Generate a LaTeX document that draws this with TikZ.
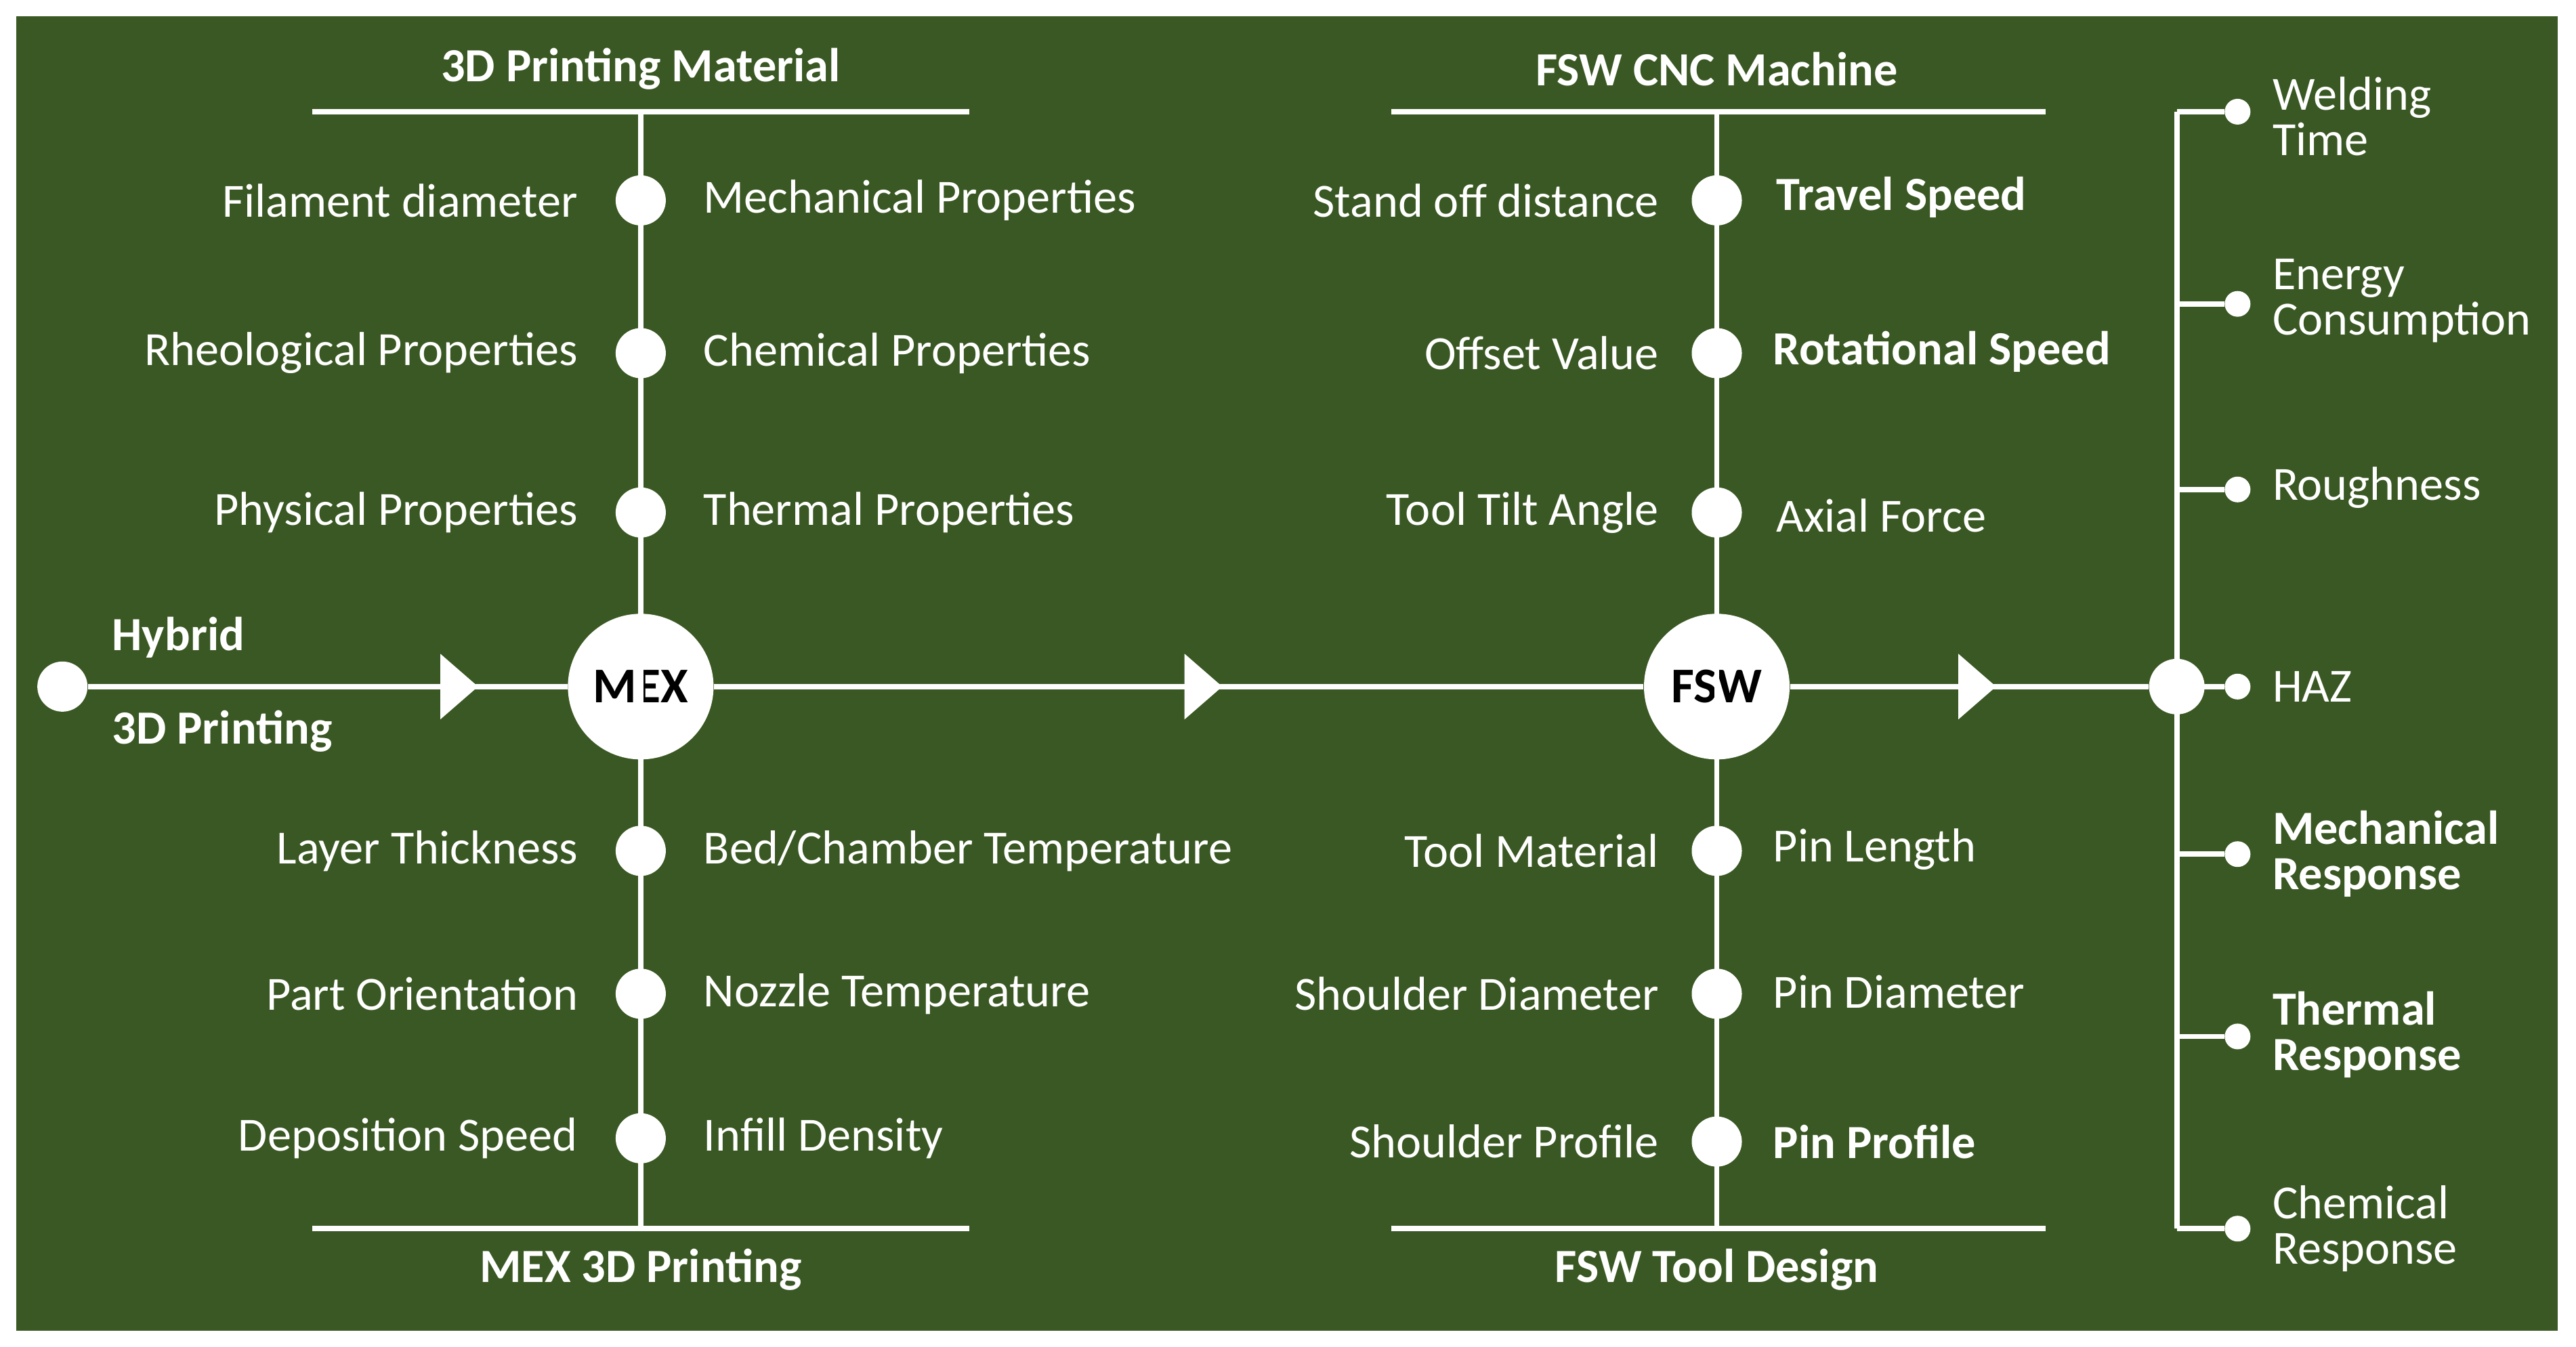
\documentclass[tikz,border=0pt]{standalone}
\usepackage{fontspec}
\setmainfont{Carlito}
\begin{document}
\begin{tikzpicture}[x=0.02425cm,y=-0.02425cm,
  ln/.style={white,line width=2.2pt},
  dot/.style={circle,fill=white,inner sep=0pt,minimum size=30\pgflinewidth},
  bd/.style={circle,fill=white,inner sep=0pt,minimum size=0.74cm},
  sd/.style={circle,fill=white,inner sep=0pt,minimum size=0.38cm},
  big/.style={circle,fill=white,inner sep=0pt,minimum size=2.15cm,font=\fontsize{21}{24}\selectfont\bfseries,text=black},
  lt/.style={text=white,font=\fontsize{20}{22}\selectfont,anchor=east,inner sep=0pt},
  rt/.style={text=white,font=\fontsize{20}{22}\selectfont,anchor=west,inner sep=0pt},
  rb/.style={rt,font=\fontsize{20}{22}\selectfont\bfseries},
  tt/.style={text=white,font=\fontsize{20}{22}\selectfont\bfseries,inner sep=0pt},
  ml/.style={rt,align=left,font=\fontsize{20}{19}\selectfont},
  mb/.style={ml,font=\fontsize{20}{19}\selectfont\bfseries},
  tri/.style={fill=white}]
\definecolor{bg}{RGB}{58,88,35}
\useasboundingbox (0,0) rectangle (1568,820);
\fill[white] (0,0) rectangle (1568,820);
\fill[bg] (10,10) rectangle (1557,810);
% main nodes
\node[bd] (start) at (38,418) {};
\node[big] (mex) at (390,418) {MEX};
\node[big] (fsw) at (1045,418) {FSW};
\node[bd,minimum size=0.82cm] (hub) at (1325,418) {};
\draw[ln] (start) -- (mex);
\draw[ln] (mex) -- (fsw);
\draw[ln] (fsw) -- (hub);
\fill[tri] (268,398) -- (291,418) -- (268,438) -- cycle;
\fill[tri] (721,398) -- (744,418) -- (721,438) -- cycle;
\fill[tri] (1192,398) -- (1215,418) -- (1192,438) -- cycle;
\node[tt,anchor=west] at (68,388) {Hybrid};
\node[tt,anchor=west] at (68,445) {3D Printing};
% MEX spine
\coordinate (mt) at (390,68); \coordinate (mb) at (390,748);
\draw[ln] (mt) -- (mb);
\coordinate (mtl) at (190,68); \coordinate (mtr) at (590,68);
\coordinate (mbl) at (190,748); \coordinate (mbr) at (590,748);
\draw[ln] (mtl) -- (mtr); \draw[ln] (mbl) -- (mbr);
\node[tt] at (390,42) {3D Printing Material};
\node[tt] at (390,773) {MEX 3D Printing};
\foreach \y/\l/\r/\n in {122/Filament diameter/Mechanical Properties/a,215/Rheological Properties/Chemical Properties/b,312/Physical Properties/Thermal Properties/c,518/Layer Thickness/Bed\slash Chamber Temperature/d,605/Part Orientation/Nozzle Temperature/e,693/Deposition Speed/Infill Density/f}{
  \node[bd] (m\n) at (390,\y) {};
  \node[lt] at (352,\y) {\l};
  \node[rt] at (428,\y) {\r};
}
% FSW spine
\coordinate (ft) at (1045,68); \coordinate (fb) at (1045,748);
\draw[ln] (ft) -- (fb);
\coordinate (ftl) at (847,68); \coordinate (ftr) at (1245,68);
\coordinate (fbl) at (847,748); \coordinate (fbr) at (1245,748);
\draw[ln] (ftl) -- (ftr); \draw[ln] (fbl) -- (fbr);
\node[tt] at (1045,42) {FSW CNC Machine};
\node[tt] at (1045,773) {FSW Tool Design};
\foreach \y/\l/\n in {122/Stand off distance/a,215/Offset Value/b,312/Tool Tilt Angle/c,518/Tool Material/d,605/Shoulder Diameter/e,695/Shoulder Profile/f}{
  \node[bd] (f\n) at (1045,\y) {};
  \node[lt] at (1010,\y) {\l};
}
\node[rb] at (1081,120) {Travel Speed};
\node[rb] at (1079,214) {Rotational Speed};
\node[rt] at (1081,314) {Axial Force};
\node[rt] at (1079,517) {Pin Length};
\node[rt] at (1079,604) {Pin Diameter};
\node[rb] at (1079,695) {Pin Profile};
% outputs
\coordinate (ot) at (1325,68); \coordinate (ob) at (1325,748);
\draw[ln] (ot) -- (ob);
\foreach \y/\n in {68/1,185/2,298/3,418/4,520/5,631/6,748/7}{
  \coordinate (b\n) at (1325,\y);
  \node[sd] (o\n) at (1362,\y) {};
  \draw[ln] (b\n) -- (o\n);
}
\node[ml] at (1383,71) {Welding\\Time};
\node[ml] at (1383,183) {Energy\\Consumption};
\node[rt] at (1383,297) {Roughness};
\node[rt] at (1383,418) {HAZ};
\node[mb] at (1383,520) {Mechanical\\Response};
\node[mb] at (1383,630) {Thermal\\Response};
\node[ml] at (1383,748) {Chemical\\Response};
\end{tikzpicture}
\end{document}
